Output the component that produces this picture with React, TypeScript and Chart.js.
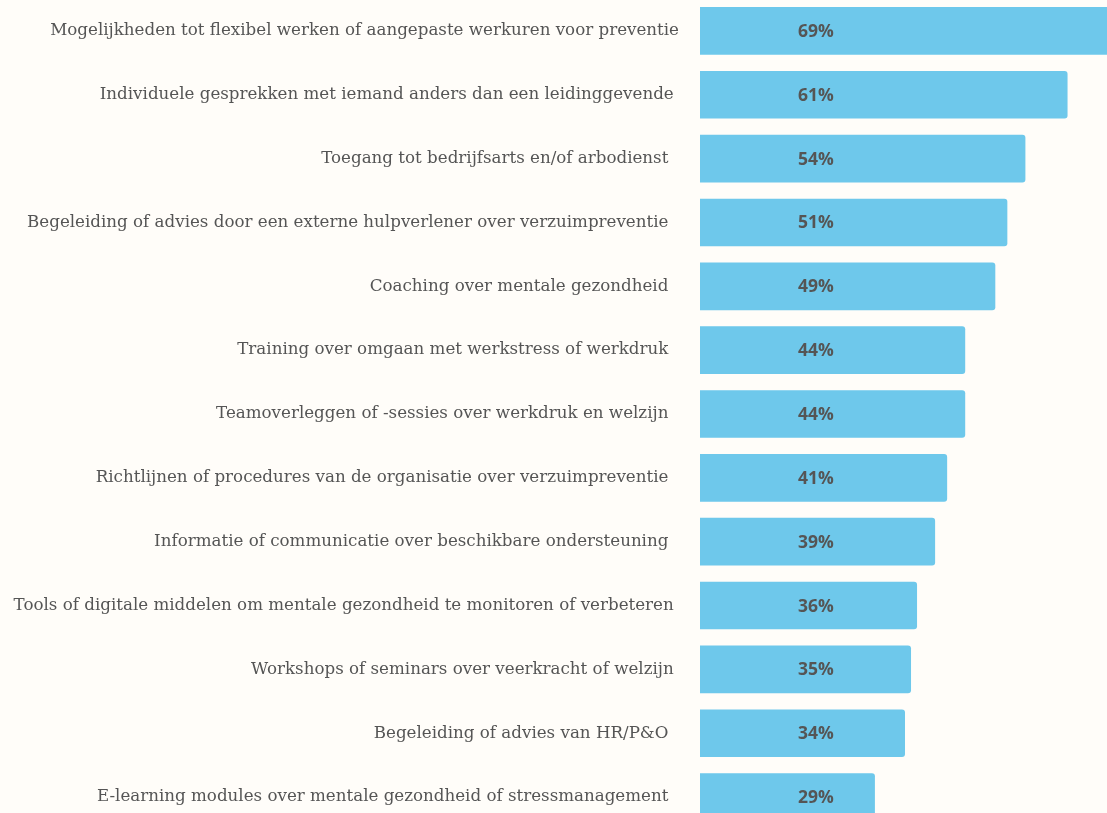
import React, { useEffect, useRef } from "react";
import { Chart, registerables } from "chart.js";

Chart.register(...registerables);

const categories: string[] = [
  "Mogelijkheden tot flexibel werken of aangepaste werkuren voor preventie",
  "Individuele gesprekken met iemand anders dan een leidinggevende ",
  "Toegang tot bedrijfsarts en/of arbodienst  ",
  "Begeleiding of advies door een externe hulpverlener over verzuimpreventie  ",
  "Coaching over mentale gezondheid  ",
  "Training over omgaan met werkstress of werkdruk  ",
  "Teamoverleggen of -sessies over werkdruk en welzijn  ",
  "Richtlijnen of procedures van de organisatie over verzuimpreventie  ",
  "Informatie of communicatie over beschikbare ondersteuning  ",
  "Tools of digitale middelen om mentale gezondheid te monitoren of verbeteren ",
  "Workshops of seminars over veerkracht of welzijn ",
  "Begeleiding of advies van HR/P&O  ",
  "E-learning modules over mentale gezondheid of stressmanagement  ",
];

const values: number[] = [69, 61, 54, 51, 49, 44, 44, 41, 39, 36, 35, 34, 29];

const valueLabels: string[] = values.map((v) => `${v}%`);

const BG = "#fffdf9";
const BAR = "#6ec8eb";
const TEXT = "#555555";

const valueLabelPlugin = {
  id: "valueLabels",
  afterDatasetsDraw(chart: any) {
    const { ctx } = chart;
    const meta = chart.getDatasetMeta(0);
    const xScale = chart.scales.x;
    ctx.save();
    ctx.font = "bold 17.5px 'Open Sans'";
    ctx.fillStyle = TEXT;
    ctx.textAlign = "center";
    ctx.textBaseline = "middle";
    meta.data.forEach((bar: any, i: number) => {
      const x = xScale.getPixelForValue(0) + 116;
      ctx.fillText(valueLabels[i], x, bar.y + 1);
    });
    ctx.restore();
  },
};

const bgPlugin = {
  id: "bg",
  beforeDraw(chart: any) {
    const { ctx, width, height } = chart;
    ctx.save();
    ctx.fillStyle = BG;
    ctx.fillRect(0, 0, width, height);
    ctx.restore();
  },
};

export default function App() {
  const ref = useRef<HTMLCanvasElement | null>(null);

  useEffect(() => {
    document.body.style.margin = "0";
    document.body.style.background = BG;
    if (!ref.current) return;
    const chart = new Chart(ref.current, {
      type: "bar",
      data: {
        labels: categories,
        datasets: [
          {
            data: values,
            backgroundColor: BAR,
            borderWidth: 0,
            borderRadius: { topLeft: 0, bottomLeft: 0, topRight: 3, bottomRight: 3 },
            borderSkipped: false,
            barThickness: 47,
          },
        ],
      },
      options: {
        indexAxis: "y",
        animation: false,
        responsive: false,
        maintainAspectRatio: false,
        layout: { padding: 0 },
        plugins: {
          legend: { display: false },
          tooltip: { enabled: false },
        },
        scales: {
          x: {
            min: 0,
            max: 407 / 6.02,
            display: false,
            grid: { display: false },
          },
          y: {
            grid: { display: false, drawTicks: false },
            border: { display: false },
            ticks: {
              color: TEXT,
              padding: 21,
              autoSkip: false,
              font: { family: "'DejaVu Serif'", size: 16.7 },
            },
            afterFit(scale: any) {
              scale.width = 700;
              scale.paddingTop = 0;
              scale.paddingBottom = 0;
            },
          },
        },
      },
      plugins: [bgPlugin, valueLabelPlugin],
    });
    return () => chart.destroy();
  }, []);

  return (
    <div
      style={{
        position: "absolute",
        left: 0,
        top: -1,
        width: 1107,
        height: 830,
        overflow: "hidden",
        background: BG,
      }}
    >
      <canvas ref={ref} width={1107} height={830} style={{ display: "block" }} />
    </div>
  );
}
